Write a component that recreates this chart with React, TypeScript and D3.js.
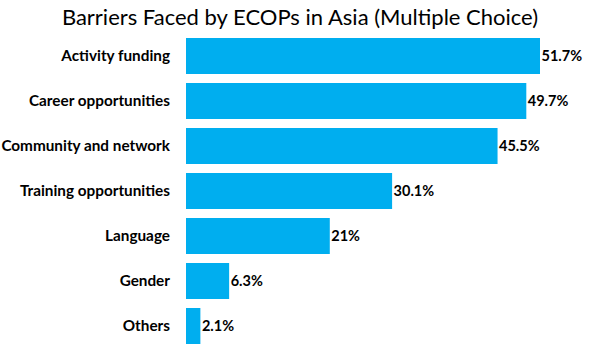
import { useMemo } from 'react';
import { scaleBand, scaleLinear } from 'd3';

const categories = [
  'Activity funding',
  'Career opportunities',
  'Community and network',
  'Training opportunities',
  'Language',
  'Gender',
  'Others',
];
const values = [51.7, 49.7, 45.5, 30.1, 21, 6.3, 2.1];
const valueLabels = ['51.7%', '49.7%', '45.5%', '30.1%', '21%', '6.3%', '2.1%'];

const width = 600;
const height = 351;
const margin = { top: 38, right: 60, bottom: 8, left: 186 };
const barColor = '#00AEEF';
const font = 'Lato, "Open Sans", sans-serif';

const App = () => {
  const y = useMemo(
    () =>
      scaleBand<string>()
        .domain(categories)
        .range([margin.top - 4.5, margin.top - 4.5 + 45 * categories.length])
        .paddingInner(0.2)
        .paddingOuter(0.1),
    [],
  );
  // 51.7% -> 354px
  const x = useMemo(() => scaleLinear().domain([0, 51.7]).range([margin.left, margin.left + 354]), []);

  return (
    <svg
      width={width}
      height={height}
      style={{ position: 'absolute', left: 0, top: 0, background: 'white' }}
    >
      <text
        x={300}
        y={25}
        textAnchor="middle"
        fontFamily={font}
        fontSize={22}
        fill="#000"
      >
        Barriers Faced by ECOPs in Asia (Multiple Choice)
      </text>
      <g>
        {categories.map((c, i) => (
          <g key={c}>
            <rect
              x={x(0)}
              y={y(c)}
              width={x(values[i]) - x(0)}
              height={y.bandwidth()}
              fill={barColor}
            />
            <text
              x={margin.left - 16}
              y={(y(c) as number) + y.bandwidth() / 2}
              dy="0.35em"
              textAnchor="end"
              fontFamily={font}
              fontWeight="bold"
              fontSize={15.3}
              fill="#000"
            >
              {c}
            </text>
            <text
              x={x(values[i]) + 1.5}
              y={(y(c) as number) + y.bandwidth() / 2}
              dy="0.35em"
              textAnchor="start"
              fontFamily={font}
              fontWeight="bold"
              fontSize={14.5}
              fill="#000"
            >
              {valueLabels[i]}
            </text>
          </g>
        ))}
      </g>
    </svg>
  );
};

export default App;
